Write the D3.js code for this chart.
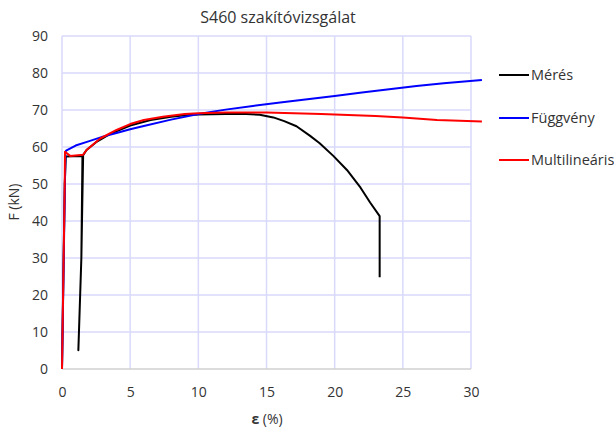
<!DOCTYPE html>
<html><head><meta charset="utf-8">
<script src="https://cdn.jsdelivr.net/npm/d3@7"></script>
<style>body{margin:0;background:#fff;} text{font-family:"Open Sans","Noto Sans",sans-serif;fill:#333;}</style>
</head><body><svg id="c" width="614" height="430"></svg>
<script>
const title = "S460 szakítóvizsgálat";
const xTicks = [0,5,10,15,20,25,30];
const yTicks = [0,10,20,30,40,50,60,70,80,90];
const seriesNames = ["Mérés","Függvény","Multilineáris"];
const seriesColors = ["#000000","#0000ff","#ff0000"];
// Mérés (measurement)
const meresX = [0,0.1,0.2,0.28,0.8,1.5,1.42,1.2,1.42,1.55,1.8,2.5,3.5,5,6.5,8,9,10,12,13.5,14.5,15.5,16.3,17.2,18.2,18.9,19.9,20.9,21.9,22.6,23.3,23.3];
const meresF = [0,25,50,57.4,57.5,57.6,30,5.1,30,57.8,59.2,61.3,63.5,65.8,67.3,68.2,68.6,68.8,68.9,68.9,68.7,68.0,67.0,65.6,63.0,61.0,57.6,53.8,49.0,45.0,41.3,24.8];
// Függvény (function fit)
const fuggX = [0,0.25,0.3,1,2,3,4,5,6,8,10,12,14,16,18,20,22,24,26,28,30.8];
const fuggF = [0,58.5,59,60.4,61.6,62.8,63.8,64.8,65.7,67.4,68.9,70.1,71.1,72.0,72.9,73.8,74.7,75.6,76.5,77.2,78.1];
// Multilineáris
const multX = [0,0.2,0.22,0.6,1.55,1.8,2.8,4,5,6,7.4,9,10,12,15,19,23,25,27.5,30.8];
const multF = [0,50,58.7,57.6,57.9,59.2,62.3,64.6,66.2,67.3,68.2,68.9,69.1,69.3,69.3,68.9,68.4,68.0,67.3,66.9];

const svg = d3.select("#c");
const x = d3.scaleLinear().domain([0,30]).range([62,471]);
const y = d3.scaleLinear().domain([0,90]).range([369,36]);

// gridlines
svg.append("g").selectAll("line").data(yTicks.filter(d=>d>0)).join("line")
  .attr("x1",x(0)).attr("x2",x(30)).attr("y1",d=>y(d)).attr("y2",d=>y(d))
  .attr("stroke","#d9d9fb").attr("stroke-width",1.5);
svg.append("g").selectAll("line").data(xTicks).join("line")
  .attr("x1",d=>x(d)).attr("x2",d=>x(d)).attr("y1",y(0)).attr("y2",y(90))
  .attr("stroke","#d9d9fb").attr("stroke-width",1.5);
// bottom axis line
svg.append("line").attr("x1",x(0)).attr("x2",x(30)).attr("y1",y(0)).attr("y2",y(0))
  .attr("stroke","#d0d0d0").attr("stroke-width",1.5);

// axes
const xa = svg.append("g").attr("transform",`translate(0,${y(0)+15})`)
  .call(d3.axisBottom(x).tickValues(xTicks).tickSize(0).tickFormat(d3.format("d")));
xa.select(".domain").remove();
xa.selectAll("text").style("font-size","14px").style("font-family","Open Sans").attr("fill","#333");
const ya = svg.append("g").attr("transform",`translate(${x(0)-11},0)`)
  .call(d3.axisLeft(y).tickValues(yTicks).tickSize(0).tickFormat(d3.format("d")));
ya.select(".domain").remove();
ya.selectAll("text").style("font-size","14px").style("font-family","Open Sans").attr("fill","#333");

// lines
const line = d3.line().x(d=>x(d[0])).y(d=>y(d[1]));
const data = [
  d3.zip(meresX, meresF),
  d3.zip(fuggX, fuggF),
  d3.zip(multX, multF)
];
data.forEach((d,i)=>{
  svg.append("path").attr("d",line(d)).attr("fill","none")
    .attr("stroke",seriesColors[i]).attr("stroke-width",2).attr("stroke-linejoin","round");
});

// title
svg.append("text").attr("x",278).attr("y",23).attr("text-anchor","middle")
  .style("font-size","16px").text(title);
// axis titles
svg.append("text").attr("x",267).attr("y",424).attr("text-anchor","middle").style("font-size","14px")
  .html('<tspan font-weight="bold">ε</tspan> (%)');
svg.append("text").attr("transform","translate(19,202) rotate(-90)").attr("text-anchor","middle")
  .style("font-size","14px").text("F (kN)");

// legend
const ly = [75,118,160];
seriesNames.forEach((n,i)=>{
  svg.append("line").attr("x1",499).attr("x2",529).attr("y1",ly[i]).attr("y2",ly[i])
    .attr("stroke",seriesColors[i]).attr("stroke-width",2);
  svg.append("text").attr("x",531).attr("y",ly[i]+5).style("font-size","14.5px").text(n);
});
</script></body></html>
